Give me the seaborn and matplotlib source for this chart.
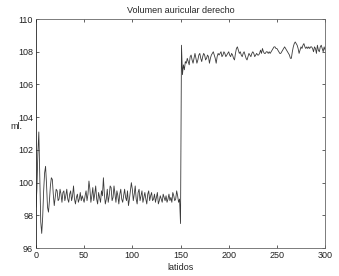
import numpy as np
import pandas as pd
import matplotlib
matplotlib.use("Agg")
import matplotlib.pyplot as plt
import seaborn as sns

# volumen auricular derecho por latido (lectura del grafico)
antes = [
    98.5, 99.6, 101.8, 103.1, 100.2, 97.6, 96.9, 97.9, 99.5, 100.6,
    101.0, 99.9, 98.5, 98.2, 98.9, 99.8, 100.3, 100.2, 99.3, 98.6,
    99.1, 99.6, 99.5, 98.9, 99.0, 99.6, 99.3, 98.8, 99.4, 99.5,
    98.9, 99.2, 99.6, 99.0, 98.8, 99.3, 99.5, 98.9, 99.2, 99.8,
    99.0, 98.7, 99.1, 99.3, 98.8, 99.0, 99.4, 98.9, 99.2, 99.0,
    98.8, 99.2, 99.5, 98.9, 99.3, 100.1, 99.6, 98.8, 99.2, 99.7,
    98.9, 99.3, 99.8, 99.0, 98.7, 99.4, 99.1, 98.8, 99.5, 99.2,
    100.3, 99.3, 98.7, 99.0, 99.6, 98.8, 99.2, 99.8, 99.7, 98.9,
    99.1, 99.8, 99.3, 98.8, 99.5, 99.2, 98.7, 99.3, 99.6, 99.0,
    98.8, 99.2, 99.6, 99.1, 98.9, 99.5, 98.6, 99.0, 99.5, 100.0,
    99.6, 98.9, 99.3, 99.8, 99.0, 98.7, 99.4, 99.6, 98.9, 99.2,
    99.5, 98.8, 99.1, 99.4, 99.0, 98.7, 99.3, 99.5, 98.9, 99.2,
    99.4, 98.9, 99.0, 99.3, 98.8, 99.1, 99.4, 98.7, 98.9, 99.2,
    99.0, 98.8, 99.3, 99.1, 98.9, 99.2, 98.8, 99.0, 99.3, 98.9,
    99.1, 98.8, 99.4, 99.2, 98.9, 99.0, 99.5, 99.2, 98.8, 99.0,
    97.5,
]
despues = [
    108.4, 106.6, 107.2, 106.9, 107.4, 107.3, 107.6, 107.4, 107.2, 107.7,
    107.8, 107.5, 107.3, 107.6, 107.9, 107.6, 107.3, 107.5, 107.8, 107.9,
    107.6, 107.4, 107.7, 107.9, 107.8, 107.5, 107.6, 107.8, 107.7, 107.3,
    107.6, 107.8, 107.9, 108.0, 107.8, 107.6, 107.3, 107.7, 107.9, 107.8,
    107.9, 108.0, 107.7, 107.8, 108.0, 107.9, 107.7, 107.8, 107.9, 108.0,
    107.8, 107.7, 107.9, 107.8, 107.6, 107.5, 107.9, 108.2, 108.3, 108.1,
    107.9, 108.0, 107.8, 107.7, 107.9, 108.0, 107.8, 107.6, 107.5, 107.7,
    107.9, 107.8, 107.7, 107.9, 108.0, 107.9, 107.7, 107.8, 107.9, 107.8,
    107.8, 107.9, 108.1, 107.9, 108.2, 108.0, 107.9, 107.9, 108.0, 108.0,
    107.9, 108.0, 107.9, 108.0, 108.1, 108.2, 108.3, 108.3, 108.2, 108.2,
    108.1, 108.0, 107.9, 107.9, 108.0, 108.1, 108.2, 108.3, 108.2, 108.1,
    108.0, 107.9, 107.8, 107.6, 107.6, 108.0, 108.3, 108.5, 108.6, 108.5,
    108.4, 108.2, 107.9, 108.1, 108.3, 108.2, 108.4, 108.5, 108.3, 108.2,
    108.3, 108.2, 108.3, 108.2, 108.3, 108.3, 108.2, 108.0, 108.3, 108.2,
    107.9, 108.4, 108.1, 108.0, 108.3, 108.4, 108.2, 108.0, 108.3, 108.1,
]
volumen = antes + despues
latidos = np.arange(len(volumen))

xticks = [0, 50, 100, 150, 200, 250, 300]
yticks = [96, 98, 100, 102, 104, 106, 108, 110]

df = pd.DataFrame({"latidos": latidos, "volumen": volumen})

sns.set_style("ticks")
plt.rcParams['font.family'] = ['Liberation Sans', 'DejaVu Sans']

fig = plt.figure(figsize=(3.39, 2.76), dpi=100)
ax = fig.add_axes([0.106, 0.101, 0.853, 0.830])
sns.lineplot(data=df, x="latidos", y="volumen", color="#3a3a3a", lw=0.6, ax=ax)

ax.set_xlim(0, 300)
ax.set_ylim(96, 110)
ax.set_xticks(xticks)
ax.set_yticks(yticks)
ax.tick_params(direction="in", length=2.5, width=0.5, labelsize=6.5,
               top=True, right=True, colors="#222222", pad=2)
for s in ["left"]:
    ax.spines[s].set_linewidth(0.6)
    ax.spines[s].set_color("#222222")
for s in ["top", "right", "bottom"]:
    ax.spines[s].set_visible(True)
    ax.spines[s].set_linewidth(0.6)
    ax.spines[s].set_color("#666666")
    ax.spines[s].set_linestyle((0, (1, 1)))

ax.set_title("Volumen auricular derecho", fontsize=6.5, pad=4)
ax.set_xlabel("latidos", fontsize=6.5, labelpad=2)
ax.set_ylabel("ml.", fontsize=6.5, rotation=0, va="center", ha="center")
ax.yaxis.set_label_coords(-0.066, 0.53)

fig.savefig("out.png", dpi=100)
